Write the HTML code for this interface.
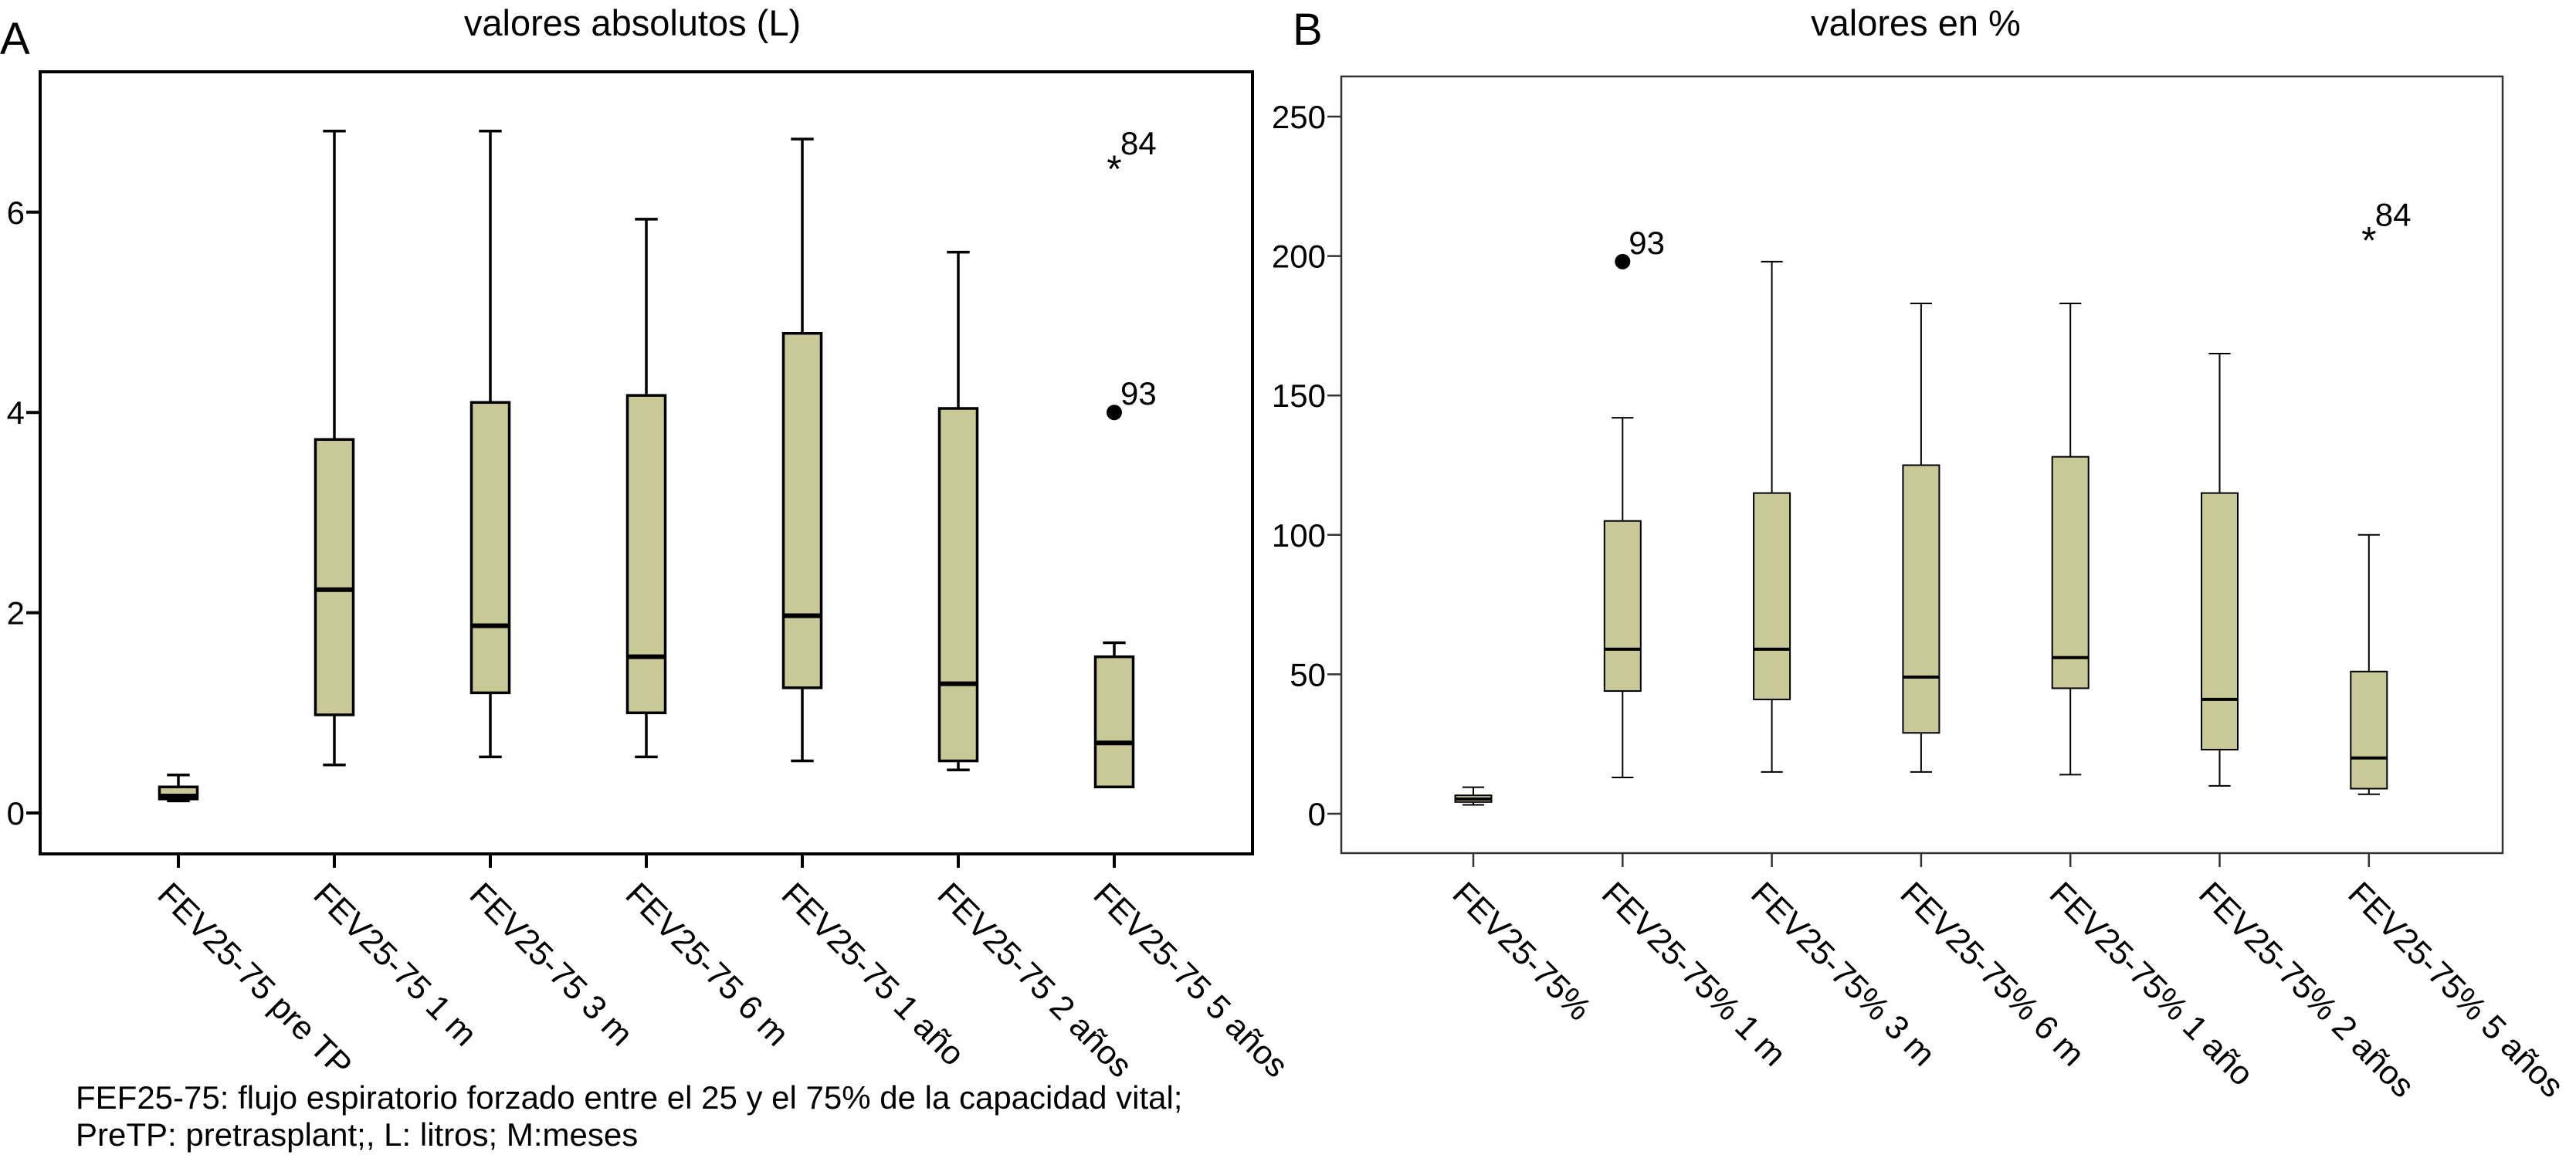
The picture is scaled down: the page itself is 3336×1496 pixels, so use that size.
<!DOCTYPE html>
<html><head><meta charset="utf-8"><style>
body{margin:0;background:#fff}
svg{display:block;font-family:"Liberation Sans",sans-serif}
</style></head><body>
<svg id="c" width="3336" height="1496" viewBox="0 0 3336 1496">
<text x="0" y="70" font-size="58">A</text>
<text x="819" y="46" font-size="47" text-anchor="middle">valores absolutos (L)</text>
<text x="1674" y="58" font-size="58">B</text>
<text x="2481" y="46" font-size="47" text-anchor="middle">valores en %</text>
<text x="98" y="1436" font-size="42">FEF25-75: flujo espiratorio forzado entre el 25 y el 75% de la capacidad vital;</text>
<text x="98" y="1484" font-size="42">PreTP: pretrasplant;, L: litros; M:meses</text>
</svg>
<script>
const catsA=["FEV25-75 pre TP","FEV25-75 1 m","FEV25-75 3 m","FEV25-75 6 m","FEV25-75 1 año","FEV25-75 2 años","FEV25-75 5 años"];
const minA=[0.12,0.48,0.56,0.56,0.52,0.43,0.26];
const q1A=[0.14,0.98,1.20,1.00,1.25,0.52,0.26];
const medA=[0.17,2.23,1.87,1.56,1.97,1.29,0.70];
const q3A=[0.26,3.73,4.10,4.17,4.79,4.04,1.56];
const maxA=[0.38,6.81,6.81,5.93,6.73,5.60,1.70];
const ticksA=[0,2,4,6];
const outA=[{c:6,v:6.5,t:"star",l:"84"},{c:6,v:4.0,t:"dot",l:"93"}];

const catsB=["FEV25-75%","FEV25-75% 1 m","FEV25-75% 3 m","FEV25-75% 6 m","FEV25-75% 1 año","FEV25-75% 2 años","FEV25-75% 5 años"];
const minB=[3.2,13,15,15,14,10,7];
const q1B=[4.2,44,41,29,45,23,9];
const medB=[5.3,59,59,49,56,41,20];
const q3B=[6.6,105,115,125,128,115,51];
const maxB=[9.5,142,198,183,183,165,100];
const ticksB=[0,50,100,150,200,250];
const outB=[{c:1,v:198,t:"dot",l:"93"},{c:6,v:208,t:"star",l:"84"}];

const svg=document.getElementById('c');
const NS="http://www.w3.org/2000/svg";
function mk(tag,a,p){const e=document.createElementNS(NS,tag);for(const k in a)e.setAttribute(k,a[k]);(p||svg).appendChild(e);return e;}

function panel(o){
  const g=mk('g',{});
  
  
  const y=v=>o.y0-(v-o.v0)*o.k;
  const x=i=>o.x0+i*o.dx;
  const fr=mk('rect',{x:o.L,y:o.T,width:o.R-o.L,height:o.B-o.T,fill:'none',stroke:o.frameCol,'stroke-width':o.fw},g);
  
  
  o.ticks.forEach(t=>{
    const tl=mk('line',{x1:o.L-18,x2:o.L,y1:y(t),y2:y(t),stroke:o.frameCol,'stroke-width':o.fw},g);
    
    
    const tx=mk('text',{x:o.L-20,y:y(t)+15,'font-size':42,'text-anchor':'end'},g);
    tx.textContent=t;
    
    
  });
  o.cats.forEach((c,i)=>{
    const cx=x(i);
    const tk=mk('line',{x1:cx,x2:cx,y1:o.B,y2:o.B+18,stroke:o.frameCol,'stroke-width':o.fw},g);
    
    
    const lb=mk('text',{transform:`translate(${cx-8},${o.B+34}) rotate(45)`,'font-size':43,dy:'0.7em'},g);
    lb.textContent=c;
    
    
    const bg=mk('g',{},g);
    
    
    const w=o.bw,hw=w/2,cw=hw*0.6;
    mk('line',{x1:cx,x2:cx,y1:y(o.max[i]),y2:y(o.q3[i]),stroke:'#000','stroke-width':o.lw},bg);
    mk('line',{x1:cx,x2:cx,y1:y(o.q1[i]),y2:y(o.min[i]),stroke:'#000','stroke-width':o.lw},bg);
    mk('line',{x1:cx-cw,x2:cx+cw,y1:y(o.max[i]),y2:y(o.max[i]),stroke:'#000','stroke-width':o.lw},bg);
    mk('line',{x1:cx-cw,x2:cx+cw,y1:y(o.min[i]),y2:y(o.min[i]),stroke:'#000','stroke-width':o.lw},bg);
    mk('rect',{x:cx-hw,y:y(o.q3[i]),width:w,height:Math.max(1,y(o.q1[i])-y(o.q3[i])),fill:'#c9c897',stroke:'#000','stroke-width':o.lw},bg);
    mk('line',{x1:cx-hw,x2:cx+hw,y1:y(o.med[i]),y2:y(o.med[i]),stroke:'#000','stroke-width':o.mw},bg);
  });
  o.out.forEach(p=>{
    const cx=x(p.c),cy=y(p.v);
    let m;
    if(p.t==='dot'){m=mk('circle',{cx:cx,cy:cy,r:10,fill:'#000'},g);}
    else{m=mk('text',{x:cx,y:cy+26,'font-size':50,'text-anchor':'middle'},g);m.textContent='*';}
    
    
    const lt=mk('text',{x:cx+8,y:cy-10,'font-size':42},g);
    lt.textContent=p.l;
    
    
  });
}
panel({name:'panel-a-chart',L:52,R:1622,T:93,B:1106,y0:1053,v0:0,k:129.7,x0:231,dx:202,bw:49,lw:3.5,mw:6,fw:4,frameCol:'#000',
  cats:catsA,min:minA,q1:q1A,med:medA,q3:q3A,max:maxA,ticks:ticksA,out:outA});
panel({name:'panel-b-chart',L:1737,R:3241,T:99,B:1105,y0:1054,v0:0,k:3.612,x0:1908,dx:193.3,bw:47,lw:2,mw:4,fw:2.5,frameCol:'#333',
  cats:catsB,min:minB,q1:q1B,med:medB,q3:q3B,max:maxB,ticks:ticksB,out:outB});
</script>
</body></html>
